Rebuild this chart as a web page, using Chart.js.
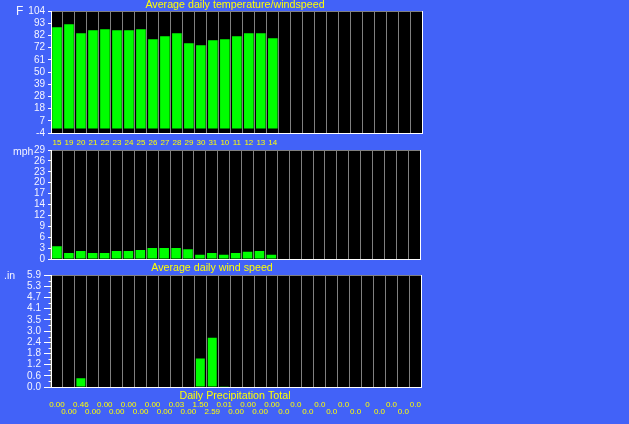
<!DOCTYPE html>
<html><head><meta charset="utf-8">
<script src="https://cdn.jsdelivr.net/npm/chart.js@4"></script>
<style>
html,body{margin:0;padding:0;background:#4262F8;width:629px;height:424px;overflow:hidden}
canvas{position:absolute;left:0;top:0}
</style></head><body>
<canvas id="c1" width="629" height="424"></canvas>
<canvas id="c2" width="629" height="424"></canvas>
<canvas id="c3" width="629" height="424"></canvas>
<script>
// ---- data ----
const dayLabels = ['15','19','20','21','22','23','24','25','26','27','28','29','30','31','10','11','12','13','14'];
const tempF = [89.6, 92.2, 84.2, 86.9, 87.8, 86.9, 86.9, 87.8, 79.0, 81.6, 84.2, 75.4, 73.6, 78.1, 79.0, 81.6, 84.2, 84.2, 79.8];
const windMph = [3.4, 1.6, 2.1, 1.6, 1.6, 2.1, 2.1, 2.4, 2.9, 2.9, 2.9, 2.6, 1.1, 1.6, 1.1, 1.6, 1.9, 2.1, 1.1];
const precipLabels = ['0.00','0.00','0.46','0.00','0.00','0.00','0.00','0.00','0.00','0.00','0.03','0.00','1.50','2.59','0.01','0.00','0.00','0.00','0.00','0.0','0.0','0.0','0.0','0.0','0.0','0.0','0','0.0','0.0','0.0','0.0'];
const precipIn = [0,0,0.46,0,0,0,0,0,0,0,0.03,0,1.50,2.59,0.01,0,0,0,0,0,0,0,0,0,0,0,0,0,0,0,0];
const tempTickLabels = ['-4','7','18','28','39','50','61','72','82','93','104'];
const windTickLabels = ['0','3','6','9','12','14','17','20','23','26','29'];
const precipTickLabels = ['0.0','0.6','1.2','1.8','2.4','3.0','3.5','4.1','4.7','5.3','5.9'];
const titles = ['Average daily temperature/windspeed','Average daily wind speed','Daily Precipitation Total'];
const units = ['F','mph','.in'];
const NCOLS = 31;

const columnLabels = Array.from({length:NCOLS}, (_, i) => dayLabels[i] !== undefined ? dayLabels[i] : '');

const panelDeco = {
  id:'panelDeco',
  beforeDraw(chart){
    const a = chart.chartArea, c = chart.ctx;
    c.save(); c.fillStyle = '#000';
    c.fillRect(a.left, a.top, a.right - a.left, a.bottom - a.top);
    c.restore();
  },
  afterDraw(chart, args, opts){
    const a = chart.chartArea, c = chart.ctx;
    const xr = Math.round(a.right - 0.5) + 0.5;
    const xl = Math.round(a.left - 0.5) + 0.5;
    const yb = Math.round(a.bottom - 0.5) + 0.5;
    c.save(); c.lineWidth = 1;
    c.strokeStyle = '#808080';
    c.beginPath(); c.moveTo(xl, a.top + 0.5); c.lineTo(xr, a.top + 0.5); c.stroke();
    c.strokeStyle = '#ffffff';
    c.beginPath(); c.moveTo(xr, a.top); c.lineTo(xr, yb + 0.5); c.stroke();
    c.beginPath(); c.moveTo(xl, a.top); c.lineTo(xl, yb + 0.5); c.stroke();
    c.beginPath(); c.moveTo(xl, yb); c.lineTo(xr, yb); c.stroke();
    if (opts && opts.minor) {
      const y = chart.scales.y, t = y.ticks;
      for (let i = 0; i < t.length - 1; i++) {
        const py = Math.round(y.getPixelForValue((t[i].value + t[i+1].value) / 2)) + 0.5;
        c.beginPath(); c.moveTo(xl - 3, py); c.lineTo(xl, py); c.stroke();
      }
    }
    if (opts && opts.texts) {
      c.fillStyle = '#FFFF00';
      c.font = '10.7px "Liberation Sans", Arial, sans-serif';
      c.textAlign = 'center'; c.textBaseline = 'alphabetic';
      c.fillText(titles[0], 235, 7.5);
      c.fillText(titles[1], 212, 270.5);
      c.fillText(titles[2], 235, 398.7);
      c.fillStyle = '#F4F4FF'; c.textAlign = 'left';
      c.font = '12px "Liberation Sans", Arial, sans-serif';
      c.fillText(units[0], 16, 15.3);
      c.font = '10.5px "Liberation Sans", Arial, sans-serif';
      c.fillText(units[1], 13, 154.5);
      c.fillText(units[2], 4, 278.5);
    }
    c.restore();
  }
};

function makePanel(id, o){
  return new Chart(document.getElementById(id), {
    type:'bar',
    data:{ labels:o.labels, datasets:[{data:o.values, backgroundColor:'#00FF00', borderWidth:0, barPercentage:o.bar, categoryPercentage:1}]},
    options:{
      responsive:false, animation:false, devicePixelRatio:1,
      layout:{padding:o.pad},
      plugins:{legend:{display:false}, tooltip:{enabled:false}, panelDeco:{minor:o.minor, texts:o.texts}},
      scales:{
        x:{ offset:true,
            grid:{color:'#808080', lineWidth:1, offset:true, drawTicks:false},
            border:{color:'#ffffff'},
            ticks:{display:o.xShow, color:'#FFFF00', font:{family:'Liberation Sans', size:8, lineHeight:o.xLH}, padding:o.xPad,
                   autoSkip:false, maxRotation:0, minRotation:0, callback:o.xcb},
            afterFit:s => { s.height = o.xh; } },
        y:{ min:o.min, max:o.max,
            grid:{drawOnChartArea:false, color:'#ffffff', tickLength:o.tl},
            border:{color:'#ffffff'},
            ticks:{color:'#F4F4FF', font:{family:'Liberation Sans', size:10, lineHeight:1}, padding:3, autoSkip:false,
                   callback:(v, i) => o.ticks[i]},
            afterBuildTicks:s => { s.ticks = o.ticks.map((_, i) => ({value:o.min + i * (o.max - o.min) / (o.ticks.length - 1)})); },
            afterFit:s => { s.width = 51; } }
      }
    },
    plugins:[panelDeco]
  });
}

makePanel('c1', {labels:columnLabels, values:tempF, bar:0.8, min:-4, max:104, ticks:tempTickLabels, tl:3,
  pad:{top:11, right:206.3, bottom:424-133-16, left:0}, xh:16, xShow:true, xLH:1.2, xPad:5,
  xcb:function(v, i){ return columnLabels[i]; }});
makePanel('c2', {labels:columnLabels, values:windMph, bar:0.8, min:0, max:29, ticks:windTickLabels, tl:3,
  pad:{top:150, right:208.7, bottom:424-259-4, left:0}, xh:4, xShow:false, xLH:1.2, xPad:0});
makePanel('c3', {labels:precipLabels, values:precipIn, bar:0.75, min:0, max:5.9, ticks:precipTickLabels, tl:7,
  pad:{top:275, right:207.7, bottom:424-387-32, left:0}, xh:32, xShow:true, xLH:0.9, xPad:14,
  minor:true, texts:true,
  xcb:function(v, i){ return i % 2 === 0 ? [precipLabels[i], ''] : ['', precipLabels[i]]; }});
</script>
</body></html>
